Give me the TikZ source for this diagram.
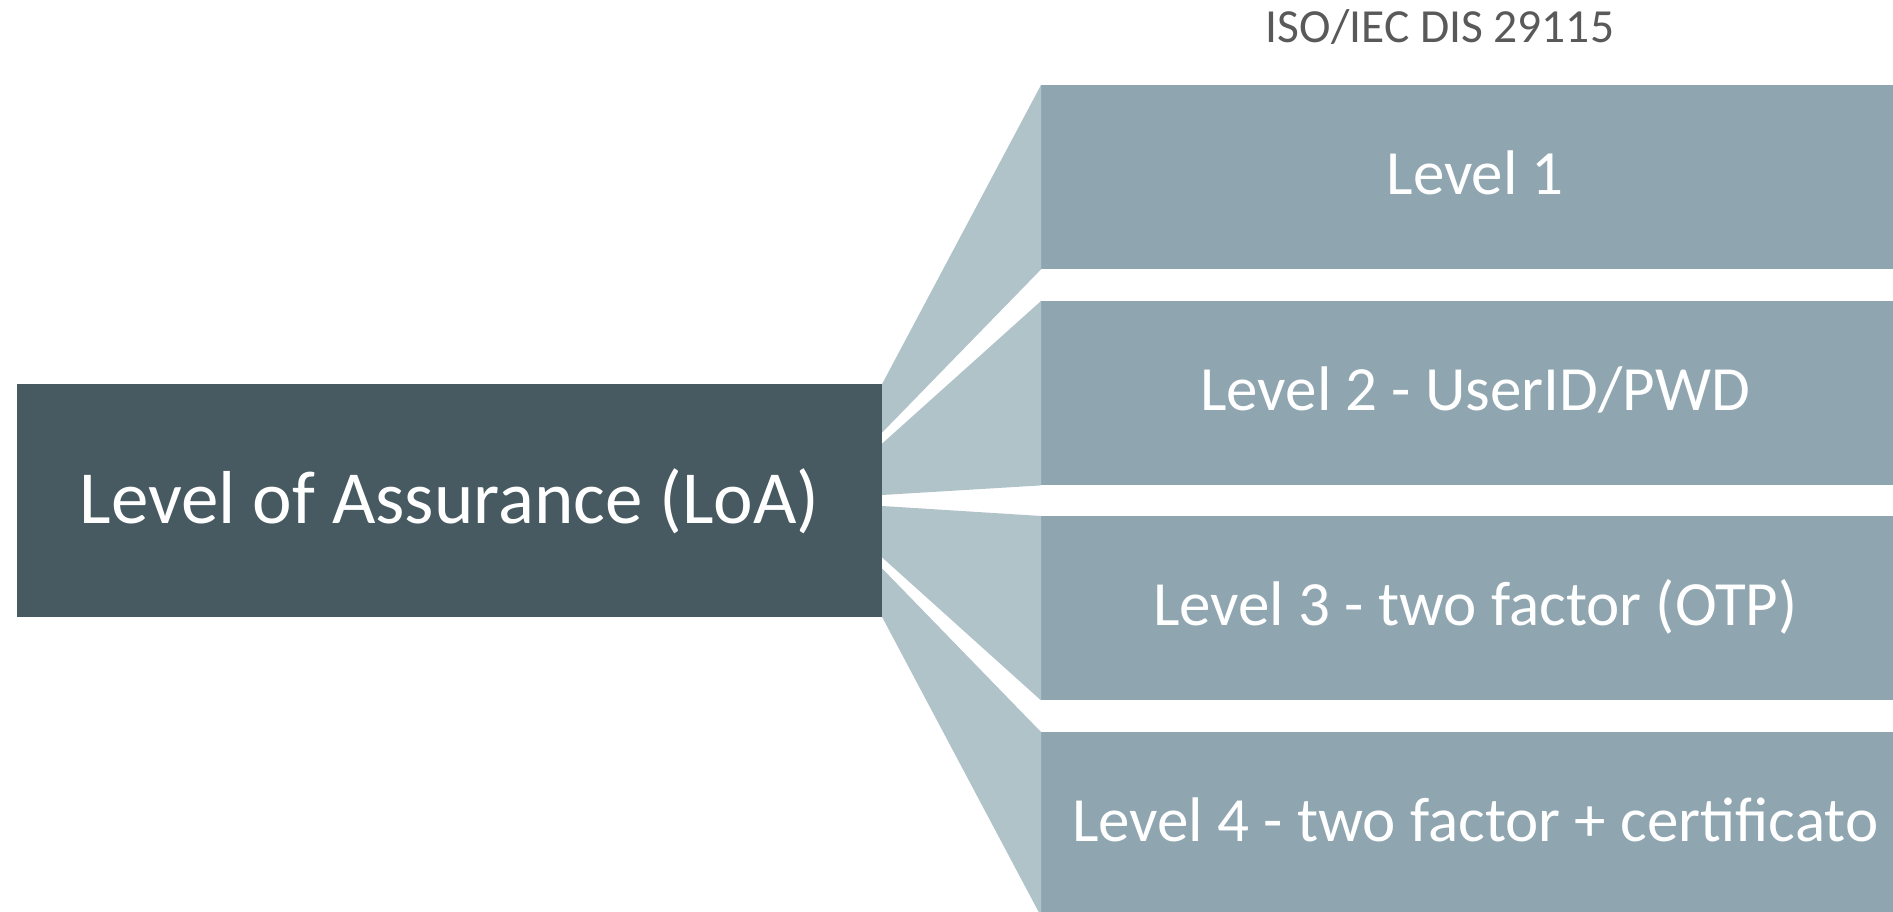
\documentclass[tikz,border=0pt]{standalone}
\usepackage{fontspec}
\setmainfont{Carlito}
\definecolor{darkc}{HTML}{475A62}
\definecolor{midc}{HTML}{8FA6B1}
\definecolor{lightc}{HTML}{B0C3C9}
\definecolor{titlec}{HTML}{595959}
\begin{document}
\begin{tikzpicture}[x=1pt,y=-1pt,
  mainbox/.style={fill=darkc, draw=none, text=white, minimum width=865pt, minimum height=233pt, inner sep=0pt, font=\fontsize{75}{90}\selectfont, text height=46pt, text depth=0pt},
  levelbox/.style={fill=midc, draw=none, anchor=north west, minimum width=868pt, minimum height=184pt, inner sep=0pt, text=white, font=\fontsize{63}{76}\selectfont, text height=34pt, text depth=0pt},
  link/.style={fill=lightc, draw=none},
  titletext/.style={text=titlec, anchor=base, inner sep=0pt, font=\fontsize{47.5}{57}\selectfont}]
\useasboundingbox (0,0) rectangle (1893,912);
\clip (0,0) rectangle (1893,912);
\node[mainbox] (loa) at (449.5,500.5) {Level of Assurance (LoA)};
\node[levelbox] (l1) at (1041,85) {Level 1};
\node[levelbox] (l2) at (1041,301) {Level 2 - UserID/PWD};
\node[levelbox] (l3) at (1041,516) {Level 3 - two factor (OTP)};
\node[levelbox] (l4) at (1041,732) {Level 4 - two factor + certificato};
\node[titletext] (title) at (1440,43) {ISO/IEC DIS 29115};
\fill[link] (loa.north east) -- (l1.north west) -- (l1.south west) -- ([yshift=68pt]loa.east) -- cycle;
\fill[link] ([yshift=57pt]loa.east) -- (l2.north west) -- (l2.south west) -- ([yshift=5.5pt]loa.east) -- cycle;
\fill[link] ([yshift=-5.5pt]loa.east) -- (l3.north west) -- (l3.south west) -- ([yshift=-57pt]loa.east) -- cycle;
\fill[link] ([yshift=-68pt]loa.east) -- (l4.north west) -- (l4.south west) -- (loa.south east) -- cycle;
\end{tikzpicture}
\end{document}
